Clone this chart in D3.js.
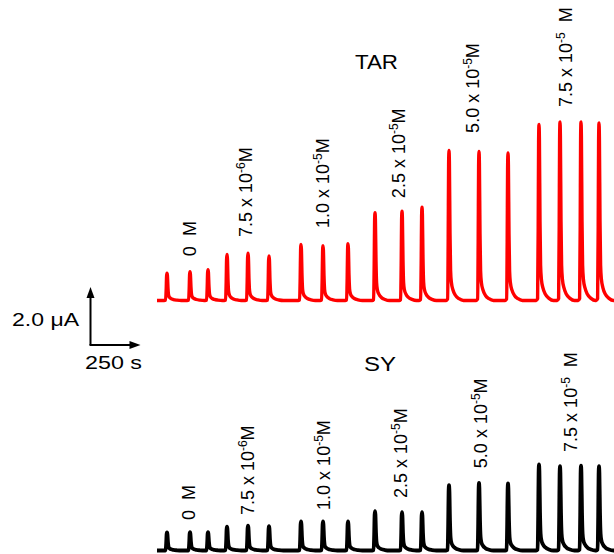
<!DOCTYPE html>
<html>
<head>
<meta charset="utf-8">
<script src="https://cdn.jsdelivr.net/npm/d3@7"></script>
<style>
  body { margin: 0; background: #fff; }
  text { font-family: "Liberation Sans", Arial, sans-serif; fill: #000; }
</style>
</head>
<body>
<div id="chart"></div>
<script>
// peak times (s) shared by both recordings
var peakTimes = [50, 165, 255, 350, 455, 560, 720, 830, 955, 1090, 1225, 1325,
                 1460, 1610, 1755, 1910, 2015, 2120, 2210];
var traceEnd = 2285;

// peak currents (uA above baseline)
var tarPeaks = [0.94, 0.99, 1.06, 1.59, 1.63, 1.54, 1.93, 1.89, 1.96, 3.03, 3.08, 3.22,
                5.17, 5.14, 5.09, 6.07, 6.16, 6.16, 6.12];
var syPeaks = [0.62, 0.63, 0.63, 0.82, 0.86, 0.84, 1.0, 1.0, 1.0, 1.36, 1.32, 1.32,
               2.25, 2.33, 2.31, 2.97, 2.91, 2.93, 2.91];

// concentration labels: [mantissa, exponent]
var concLabels = [["0", null], ["7.5", "-6"], ["1.0", "-5"], ["2.5", "-5"], ["5.0", "-5"], ["7.5", "-5"]];
var tarLabelTimes = [160, 440, 825, 1205, 1575, 2040];
var tarLabelLevels = [1.53, 2.19, 2.5, 3.53, 5.78, 6.67];
var syLabelTimes = [155, 450, 830, 1215, 1615, 2065];
var syLabelLevels = [1.05, 1.22, 1.40, 1.81, 2.84, 3.40];

var scaleBarCurrent = 2.0, scaleBarTime = 250;

var width = 614, height = 554;

var svg = d3.select("#chart").append("svg")
    .attr("width", width)
    .attr("height", height);

// 5 s per px, 29 px per uA
var x = d3.scaleLinear().domain([0, traceEnd]).range([157, 157 + traceEnd / 5]);
var yTar = d3.scaleLinear().domain([0, 1]).range([300.5, 271.5]);
var ySy = d3.scaleLinear().domain([0, 1]).range([550.5, 521.5]);

// shape of one amperometric spike: [dt seconds, fraction of peak]
var spike = [[-14, 0], [-7, 0.01], [-4, 0.42], [-2, 0.9], [0, 1], [2, 0.92],
             [5, 0.45], [8, 0.2], [12, 0.12], [20, 0.07], [32, 0.035], [50, 0.012], [72, 0]];

function tracePoints(peaks) {
    var pts = [[0, 0]];
    peakTimes.forEach(function(t, i) {
        spike.forEach(function(s) { pts.push([t + s[0], peaks[i] * s[1]]); });
    });
    pts.push([traceEnd, 0]);
    return pts;
}

function drawTrace(peaks, y, color, w) {
    var line = d3.line()
        .x(function(d) { return x(d[0]); })
        .y(function(d) { return y(d[1]); })
        .curve(d3.curveMonotoneX);
    svg.append("path")
        .datum(tracePoints(peaks))
        .attr("d", line)
        .attr("fill", "none")
        .attr("stroke", color)
        .attr("stroke-width", w)
        .attr("stroke-linejoin", "round");
}

function drawLabels(times, levels, y) {
    concLabels.forEach(function(c, i) {
        var t = svg.append("text")
            .attr("transform", "translate(" + (x(times[i]) + 6.5) + "," + y(levels[i]) + ") rotate(-90)")
            .attr("font-size", 18);
        if (c[1] === null) {
            t.text(c[0] + "\u00a0 M");
        } else {
            t.append("tspan").text(c[0] + " x 10");
            t.append("tspan").attr("font-size", 12).attr("dy", -7).text(c[1]);
            t.append("tspan").attr("dy", 7).text(i === 5 ? "\u00a0 M" : "M");
        }
    });
}

drawTrace(tarPeaks, yTar, "#ff0000", 3.4);
drawTrace(syPeaks, ySy, "#000000", 3.8);
drawLabels(tarLabelTimes, tarLabelLevels, yTar);
drawLabels(syLabelTimes, syLabelLevels, ySy);

svg.append("text").attr("x", 355).attr("y", 69).attr("font-size", 21)
    .attr("textLength", 43).attr("lengthAdjust", "spacingAndGlyphs").text("TAR");
svg.append("text").attr("x", 364).attr("y", 371).attr("font-size", 21)
    .attr("textLength", 32).attr("lengthAdjust", "spacingAndGlyphs").text("SY");

// scale bar
var barScale = d3.scaleLinear().domain([0, 1]).range([0, 29]);
var cx = 90.5, cy = 345;
var vTop = cy - barScale(scaleBarCurrent);
var hEnd = cx + scaleBarTime / 5;
svg.append("line").attr("x1", cx).attr("y1", cy).attr("x2", cx).attr("y2", vTop + 8)
    .attr("stroke", "#000").attr("stroke-width", 2);
svg.append("line").attr("x1", cx - 1).attr("y1", cy).attr("x2", hEnd - 8).attr("y2", cy)
    .attr("stroke", "#000").attr("stroke-width", 2);
svg.append("path")
    .attr("d", "M" + cx + "," + vTop + "L" + (cx - 4) + "," + (vTop + 11) + "L" + (cx + 4) + "," + (vTop + 11) + "Z")
    .attr("fill", "#000");
svg.append("path")
    .attr("d", "M" + hEnd + "," + cy + "L" + (hEnd - 11) + "," + (cy - 4) + "L" + (hEnd - 11) + "," + (cy + 4) + "Z")
    .attr("fill", "#000");
svg.append("text").attr("x", 12).attr("y", 326).attr("font-size", 19)
    .attr("textLength", 67).attr("lengthAdjust", "spacingAndGlyphs")
    .text(scaleBarCurrent.toFixed(1) + " \u03bcA");
svg.append("text").attr("x", 85).attr("y", 369).attr("font-size", 19)
    .attr("textLength", 57).attr("lengthAdjust", "spacingAndGlyphs")
    .text(scaleBarTime + " s");
</script>
</body>
</html>
